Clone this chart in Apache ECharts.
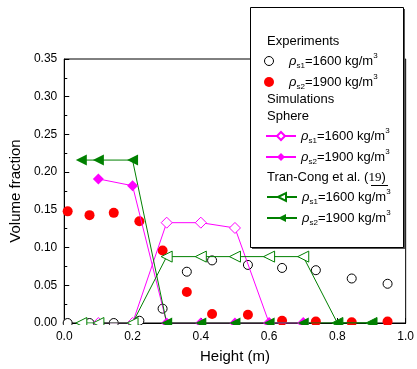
<!DOCTYPE html>
<html>
<head>
<meta charset="utf-8">
<script src="https://cdn.jsdelivr.net/npm/echarts@6/dist/echarts.min.js"></script>
<style>
  html, body { margin: 0; padding: 0; background: #fff; }
  #main { width: 417px; height: 369px; }
</style>
</head>
<body>
<div id="main"></div>
<script>
// experiments (heights in m)
var expX = [0.01, 0.074, 0.145, 0.22, 0.288, 0.359, 0.433, 0.538, 0.638, 0.737, 0.842, 0.947];
var exp1600 = [0, 0, 0, 0.003, 0.019, 0.068, 0.083, 0.077, 0.073, 0.070, 0.059, 0.052];
var exp1900 = [0.148, 0.143, 0.146, 0.135, 0.096, 0.041, 0.012, 0.011, 0.003, 0.002, 0.001, 0.002];
// simulations, sphere
var sphX = [0.1, 0.2, 0.3, 0.4, 0.5, 0.6, 0.7];
var sph1600 = [0, 0, 0.133, 0.133, 0.126, 0, 0];
var sph1900 = [0.191, 0.182, 0, 0, 0, 0, 0];
// Tran-Cong et al.
var tcX = [0.05, 0.1, 0.2, 0.3, 0.4, 0.5, 0.6, 0.7, 0.8, 0.9];
var tc1600 = [0, 0, 0, 0.088, 0.088, 0.088, 0.088, 0.088, 0, 0];
var tc1900 = [0.216, 0.216, 0.216, 0, 0, 0, 0, 0, 0, 0];

var xTicks = ['0.0', '0.2', '0.4', '0.6', '0.8', '1.0'];
var yTicks = ['0.00', '0.05', '0.10', '0.15', '0.20', '0.25', '0.30', '0.35'];

var names = ['exp1', 'exp2', 'sph1', 'sph2', 'tc1', 'tc2'];
var legendLabels = {
    exp1: ['s1', '1600'], exp2: ['s2', '1900'],
    sph1: ['s1', '1600'], sph2: ['s2', '1900'],
    tc1: ['s1', '1600'], tc2: ['s2', '1900']
};

function pairs(xs, ys) {
    return xs.map(function (x, i) { return [x, ys[i]]; });
}

var GREEN = '#008000', MAG = '#ff00ff', RED = '#ff0000';
var FONT = 'Liberation Sans';

var rich = {
    r: { fontFamily: FONT, fontStyle: 'italic', fontSize: 13, lineHeight: 18, color: '#000' },
    s: { fontFamily: FONT, fontSize: 8, lineHeight: 9, verticalAlign: 'bottom', color: '#000' },
    t: { fontFamily: FONT, fontSize: 13, lineHeight: 18, color: '#000' },
    p: { fontFamily: FONT, fontSize: 8, lineHeight: 9, verticalAlign: 'top', color: '#000' }
};

// one legend per row so it can sit under its heading
var rowTop = { exp1: 61, exp2: 82, sph1: 136, sph2: 157, tc1: 197, tc2: 218 };
var rowLeft = { exp1: 264, exp2: 264, sph1: 265, sph2: 265, tc1: 266, tc2: 266 };
var legends = names.map(function (n) {
    var lg = {
        data: [n],
        left: rowLeft[n],
        top: rowTop[n] - 9,
        padding: 0,
        itemWidth: 30,
        itemHeight: 10,
        selectedMode: false,
        z: 200,
        formatter: function (name) {
            var l = legendLabels[name];
            return '{r|ρ}{s|' + l[0] + '}{t|=' + l[1] + ' kg/m}{p|3}';
        },
        textStyle: { rich: rich }
    };
    if (n === 'exp1') {
        lg.itemHeight = 9;
        lg.itemStyle = { borderWidth: 1 };
    }
    return lg;
});

var myChart = echarts.init(document.getElementById('main'));
var option = {
    animation: false,
    backgroundColor: '#fff',
    grid: {
        left: 60, right: 8, top: 59, bottom: 45,
        show: true, borderColor: '#000', borderWidth: 1
    },
    legend: legends,
    graphic: [
        // hide the part of the markers that falls below the x axis
        { type: 'rect', z: 100, shape: { x: 60, y: 325, width: 352, height: 6 }, style: { fill: '#fff' } },
        { type: 'rect', z: 150, shape: { x: 252, y: 9, width: 153, height: 240 }, style: { fill: '#555' } },
        { type: 'rect', z: 151, shape: { x: 250.5, y: 7.5, width: 153, height: 240 }, style: { fill: '#fff', stroke: '#000', lineWidth: 1 } },
        { type: 'text', z: 160, left: 267, top: 35, style: { text: 'Experiments', font: '13px ' + FONT, fill: '#000' } },
        { type: 'text', z: 160, left: 267, top: 93, style: { text: 'Simulations', font: '13px ' + FONT, fill: '#000' } },
        { type: 'text', z: 160, left: 267, top: 110, style: { text: 'Sphere', font: '13px ' + FONT, fill: '#000' } },
        { type: 'text', z: 160, left: 267, top: 171, style: {
            text: '{a|Tran-Cong et al. (}{b|19}{a|)}',
            rich: {
                a: { fontFamily: FONT, fontSize: 13, color: '#000' },
                b: { fontFamily: 'Liberation Serif', fontSize: 13, color: '#000' }
            }
        } },
        { type: 'line', z: 160, shape: { x1: 371, y1: 185.5, x2: 388, y2: 185.5 }, style: { stroke: '#000', lineWidth: 1 } }
    ],
    xAxis: {
        type: 'value',
        min: 0, max: 1, interval: 0.2,
        name: 'Height (m)',
        nameLocation: 'middle',
        nameGap: 26,
        nameTextStyle: { fontFamily: FONT, fontSize: 15, color: '#000' },
        axisLine: { lineStyle: { color: '#000', width: 1 } },
        axisTick: { inside: true, length: 5, lineStyle: { color: '#000' } },
        minorTick: { show: true, splitNumber: 2, length: 3, lineStyle: { color: '#000' } },
        splitLine: { show: false },
        axisLabel: {
            fontFamily: FONT, fontSize: 12, color: '#000', margin: 8,
            formatter: function (v) { return xTicks[Math.round(v / 0.2)]; }
        }
    },
    yAxis: {
        type: 'value',
        min: 0, max: 0.35, interval: 0.05,
        name: 'Volume fraction',
        nameLocation: 'middle',
        nameGap: 37,
        nameTextStyle: { fontFamily: FONT, fontSize: 15, color: '#000' },
        axisLine: { show: true, lineStyle: { color: '#000', width: 1 } },
        axisTick: { inside: true, length: 5, lineStyle: { color: '#000' } },
        minorTick: { show: true, splitNumber: 2, length: 3, lineStyle: { color: '#000' } },
        splitLine: { show: false },
        axisLabel: {
            fontFamily: FONT, fontSize: 12, color: '#000', margin: 7,
            formatter: function (v) { return yTicks[Math.round(v / 0.05)]; }
        }
    },
    series: [
        {
            name: 'exp1', type: 'scatter', data: pairs(expX, exp1600),
            symbol: 'circle', symbolSize: 9,
            itemStyle: { color: '#fff', borderColor: '#000', borderWidth: 1, opacity: 1 }
        },
        {
            name: 'exp2', type: 'scatter', data: pairs(expX, exp1900),
            symbol: 'circle', symbolSize: 10,
            itemStyle: { color: RED, opacity: 1 }
        },
        {
            name: 'sph1', type: 'line', data: pairs(sphX, sph1600),
            symbol: 'diamond', symbolSize: 11, showAllSymbol: true,
            lineStyle: { color: MAG, width: 1 },
            itemStyle: { color: '#fff', borderColor: MAG, borderWidth: 1 }
        },
        {
            name: 'sph2', type: 'line', data: pairs(sphX, sph1900),
            symbol: 'diamond', symbolSize: 11, showAllSymbol: true,
            lineStyle: { color: MAG, width: 1 },
            itemStyle: { color: MAG }
        },
        {
            name: 'tc1', type: 'line', data: pairs(tcX, tc1600),
            symbol: 'triangle', symbolRotate: 90, symbolSize: 11, showAllSymbol: true,
            lineStyle: { color: GREEN, width: 1 },
            itemStyle: { color: '#fff', borderColor: GREEN, borderWidth: 1 }
        },
        {
            name: 'tc2', type: 'line', data: pairs(tcX, tc1900),
            symbol: 'triangle', symbolRotate: 90, symbolSize: 11, showAllSymbol: true,
            lineStyle: { color: GREEN, width: 1 },
            itemStyle: { color: GREEN }
        }
    ]
};
myChart.setOption(option);
</script>
</body>
</html>
